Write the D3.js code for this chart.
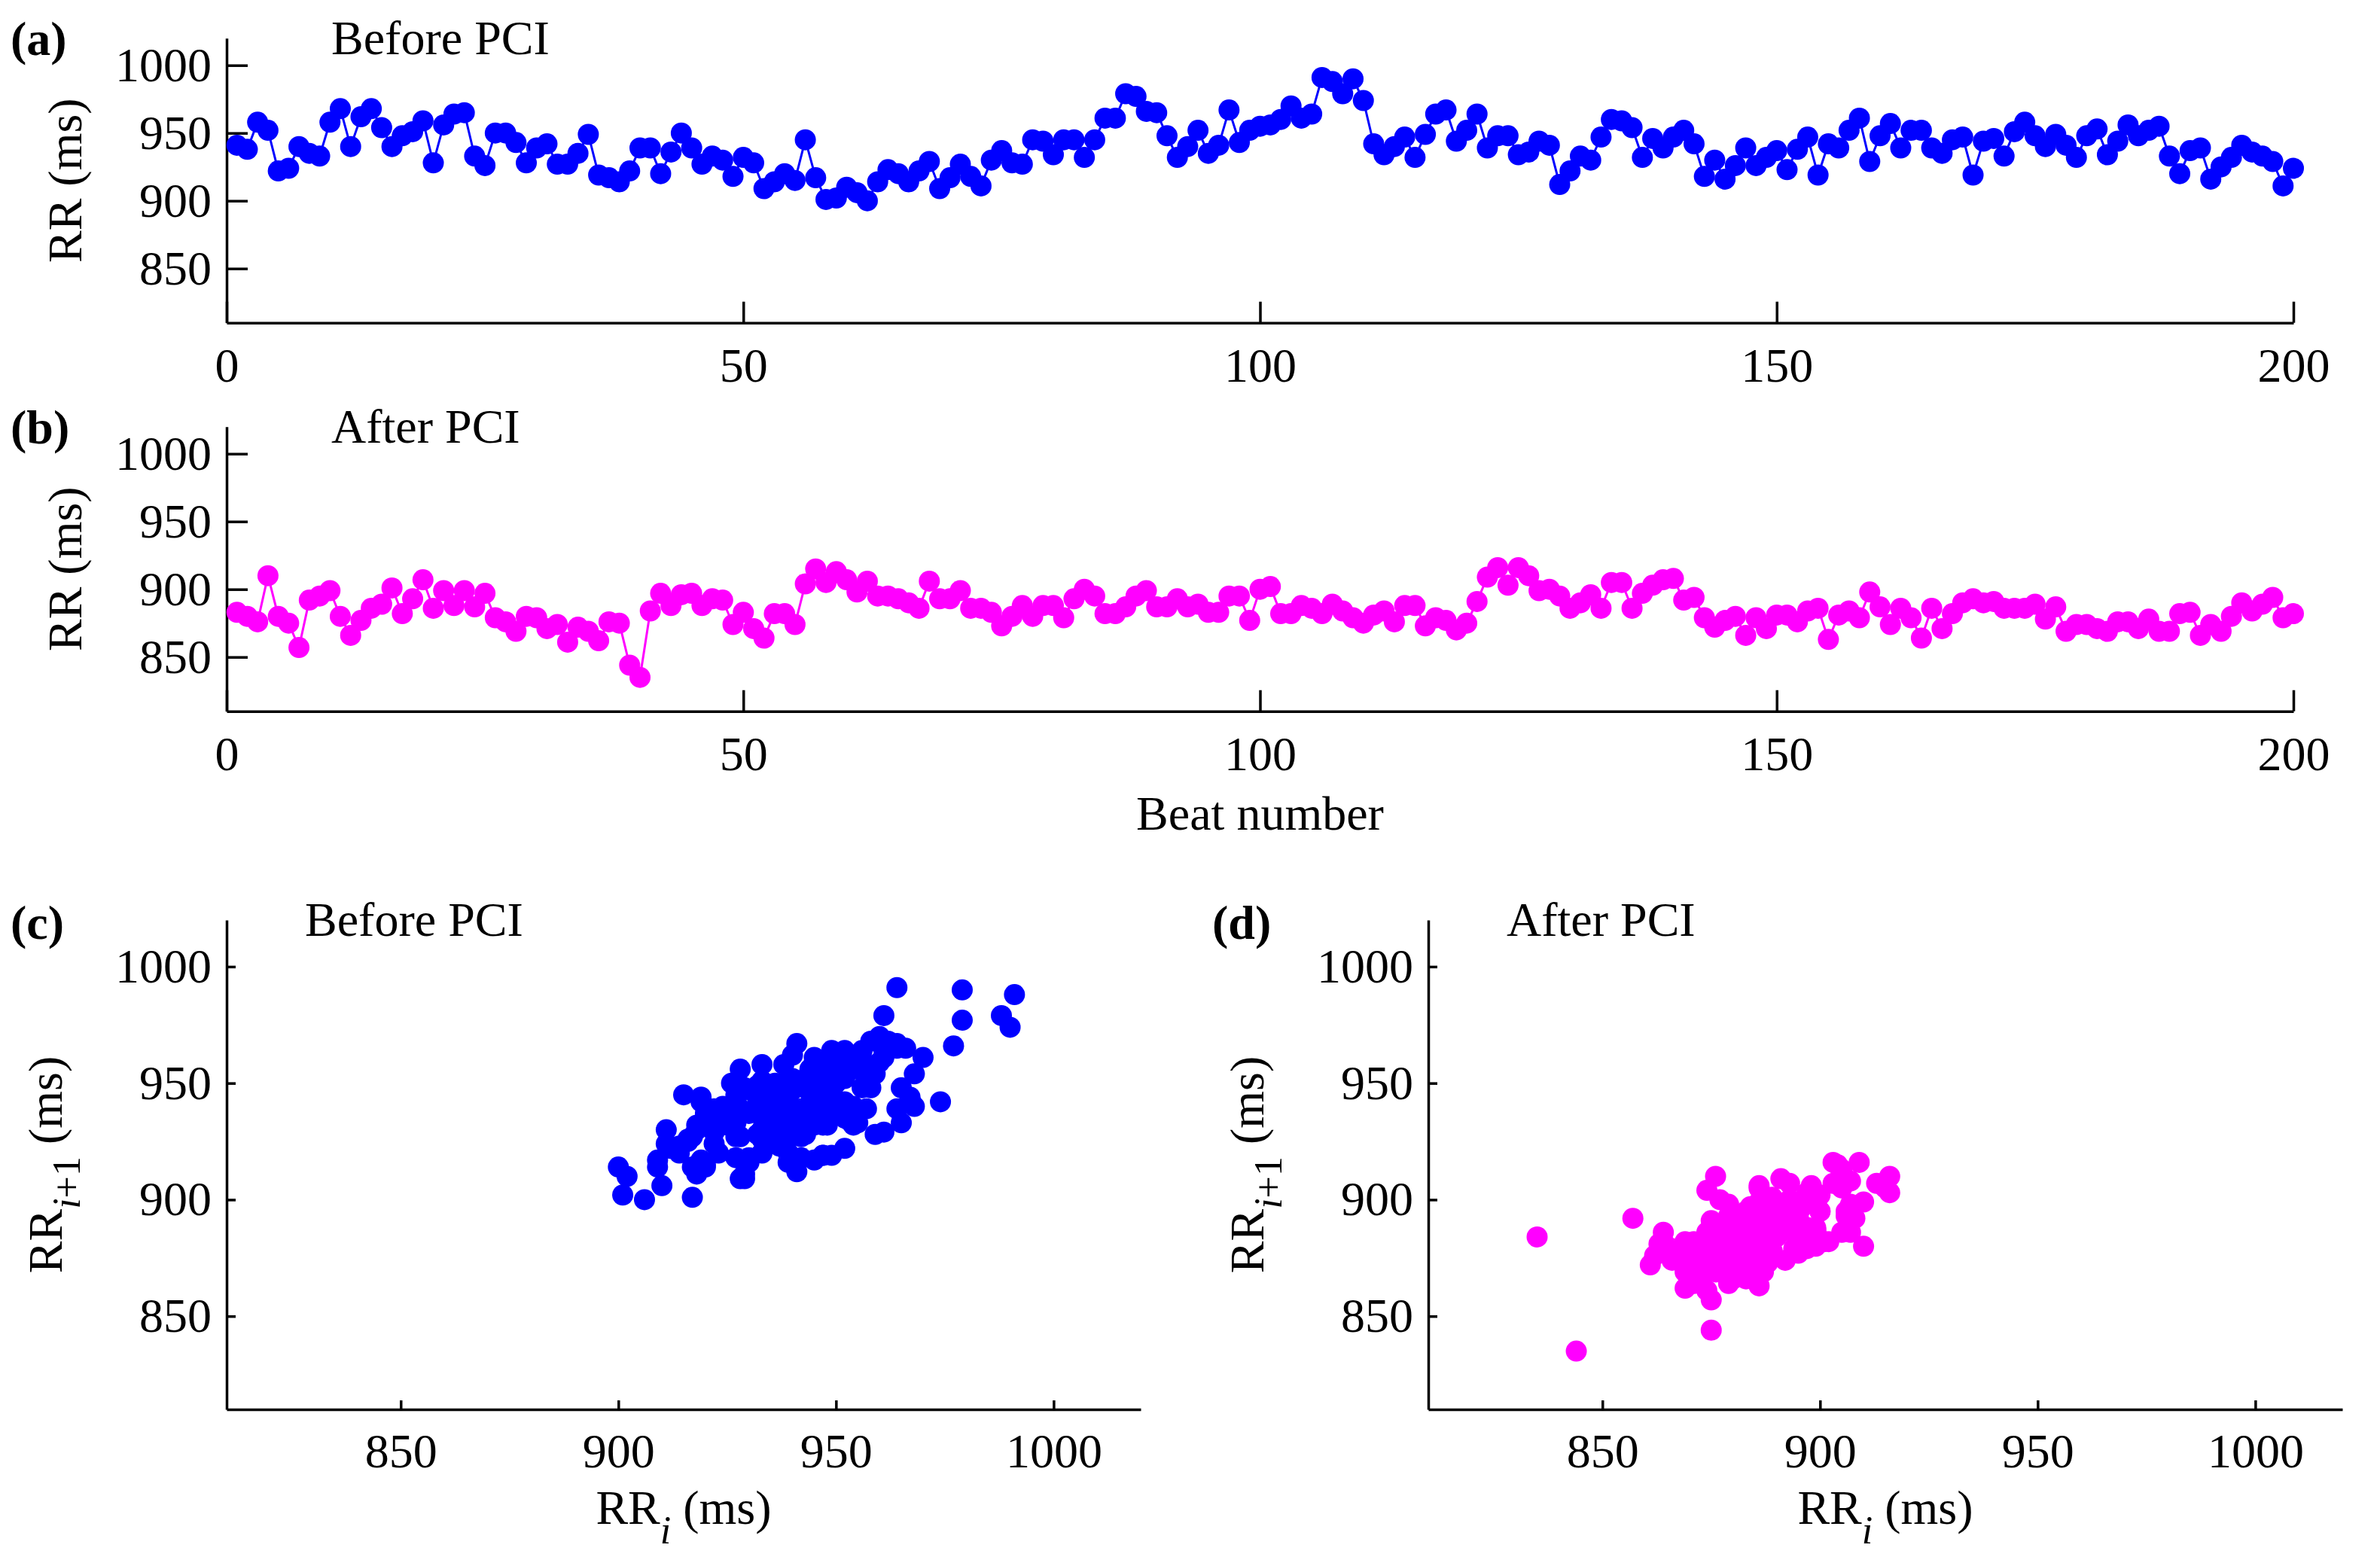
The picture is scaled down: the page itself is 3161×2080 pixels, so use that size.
<!DOCTYPE html>
<html lang="en">
<head>
    <meta charset="UTF-8">
    <title>RR intervals before and after PCI</title>
    <script src="https://d3js.org/d3.v7.min.js"></script>
    <style>
        body { margin: 0; background: #fff; }
        svg { display: block; }
        text { font-family: "Liberation Serif", "Times New Roman", serif; fill: #000; }
        .axis path, .axis line { stroke: #000; stroke-width: 3.5px; }
        .axis text { font-size: 64px; font-family: "Liberation Serif", "Times New Roman", serif; }
        .tag { font-size: 64px; font-weight: bold; }
        .lbl { font-size: 64px; }
    </style>
</head>
<body>
    <div id="chart"></div>
    <script>
        // RR intervals (ms), beats 1..200
        var beforeRR = [
            941, 938, 958, 952, 922, 924, 940, 935, 933, 958,
            968, 940, 962, 968, 954, 940, 948, 951, 959, 928,
            956, 964, 965, 933, 926, 950, 950, 943, 928, 939,
            942, 927, 927, 935, 949, 919, 917, 914, 922, 939,
            939, 920, 936, 950, 939, 927, 933, 930, 918, 932,
            928, 909, 914, 920, 915, 945, 917, 901, 902, 910,
            906, 900, 914, 923, 920, 914, 922, 929, 909, 917,
            927, 918, 911, 930, 937, 928, 927, 945, 944, 934,
            945, 945, 932, 945, 961, 961, 979, 977, 966, 965,
            948, 932, 940, 952, 935, 941, 967, 943, 952, 955,
            956, 960, 970, 961, 964, 991, 988, 979, 990, 974,
            942, 934, 940, 947, 932, 949, 964, 967, 944, 952,
            964, 939, 948, 948, 934, 936, 944, 941, 912, 922,
            933, 930, 947, 960, 959, 954, 932, 946, 939, 947,
            952, 942, 918, 930, 916, 926, 939, 926, 932, 937,
            923, 938, 947, 919, 942, 939, 952, 961, 929, 948,
            957, 939, 952, 952, 939, 935, 945, 947, 919, 944,
            946, 933, 951, 958, 948, 940, 949, 941, 932, 948,
            953, 934, 944, 956, 948, 952, 955, 933, 920, 937,
            939, 916, 925, 932, 941, 936, 933, 929, 911, 924
        ];

        var afterRR = [
            883, 880, 876, 910, 880, 875, 857, 892, 895, 899,
            880, 866, 877, 886, 889, 901, 882, 893, 907, 886,
            899, 888, 899, 887, 897, 879, 876, 869, 880, 879,
            871, 874, 861, 872, 869, 862, 876, 875, 844, 835,
            884, 897, 888, 896, 897, 888, 893, 892, 874, 883,
            871, 864, 882, 882, 874, 904, 915, 905, 913, 907,
            898, 906, 895, 895, 893, 890, 886, 906, 893, 893,
            899, 886, 886, 883, 873, 880, 888, 880, 888, 888,
            879, 893, 900, 895, 882, 882, 887, 895, 899, 887,
            887, 893, 887, 889, 883, 883, 895, 895, 877, 900,
            902, 882, 882, 888, 886, 882, 889, 884, 879, 875,
            881, 884, 876, 888, 888, 873, 879, 877, 870, 875,
            891, 909, 916, 903, 916, 910, 899, 900, 895, 886,
            890, 896, 886, 905, 905, 886, 897, 903, 907, 908,
            892, 894, 879, 872, 877, 880, 866, 879, 871, 881,
            881, 876, 884, 886, 863, 881, 884, 879, 898, 887,
            874, 886, 879, 864, 886, 871, 882, 890, 893, 890,
            891, 886, 886, 886, 889, 878, 887, 869, 874, 874,
            871, 869, 876, 876, 871, 878, 869, 869, 882, 883,
            866, 874, 869, 880, 890, 884, 889, 894, 879, 882
        ];

        var beatTicks = [0, 50, 100, 150, 200];
        var rrTicks = [850, 900, 950, 1000];
        var rrDomain = [810, 1020];

        var blue = "#0000ff";
        var magenta = "#ff00ff";

        var W = 3161, H = 2080;
        var svg = d3.select("#chart").append("svg")
            .attr("width", W)
            .attr("height", H);

        var beats = d3.range(1, beforeRR.length + 1);
        var fmt = d3.format("d");

        // ---- time series panels (a) and (b)
        var xBeat = d3.scaleLinear().domain([0, 200]).range([301, 3046]);

        function seriesPanel(values, yRange, color, tag, title, tagY) {
            var y = d3.scaleLinear().domain(rrDomain).range(yRange);
            var g = svg.append("g");

            g.append("g")
                .attr("class", "axis")
                .attr("transform", `translate(0,${yRange[0]})`)
                .call(d3.axisBottom(xBeat).tickValues(beatTicks).tickFormat(fmt).tickSize(-28).tickSizeOuter(0))
                .selectAll("text").attr("y", 78).attr("dy", null);

            g.append("g")
                .attr("class", "axis")
                .attr("transform", `translate(${xBeat(0)},0)`)
                .call(d3.axisLeft(y).tickValues(rrTicks).tickFormat(fmt).tickSize(-28).tickSizeOuter(0).tickPadding(20));

            var line = d3.line()
                .x((d, i) => xBeat(beats[i]))
                .y(d => y(d));

            g.append("path")
                .datum(values)
                .attr("fill", "none")
                .attr("stroke", color)
                .attr("stroke-width", 3)
                .attr("d", line);

            g.selectAll("circle")
                .data(values)
                .enter().append("circle")
                .attr("cx", (d, i) => xBeat(beats[i]))
                .attr("cy", d => y(d))
                .attr("r", 14)
                .attr("fill", color);

            g.append("text").attr("class", "tag").attr("x", 14).attr("y", tagY).text(tag);
            g.append("text").attr("class", "lbl").attr("x", 440).attr("y", tagY - 1).text(title);

            g.append("text")
                .attr("class", "lbl")
                .attr("text-anchor", "middle")
                .attr("transform", `translate(108,${(yRange[0] + yRange[1]) / 2}) rotate(-90)`)
                .text("RR (ms)");
        }

        seriesPanel(beforeRR, [428.7, 50.7], blue, "(a)", "Before PCI", 73);
        seriesPanel(afterRR, [944.7, 566.7], magenta, "(b)", "After PCI", 589);

        svg.append("text")
            .attr("class", "lbl")
            .attr("text-anchor", "middle")
            .attr("x", (xBeat(0) + xBeat(200)) / 2)
            .attr("y", 1102)
            .text("Beat number");

        // ---- Poincare panels (c) and (d): RR(i) vs RR(i+1)
        function poincarePanel(values, x0, color, tag, title) {
            var x = d3.scaleLinear().domain(rrDomain).range([x0, x0 + 1214]);
            var y = d3.scaleLinear().domain(rrDomain).range([1872, 1222]);
            var g = svg.append("g");

            g.append("g")
                .attr("class", "axis")
                .attr("transform", `translate(0,1872)`)
                .call(d3.axisBottom(x).tickValues(rrTicks).tickFormat(fmt).tickSize(-12).tickSizeOuter(0))
                .selectAll("text").attr("y", 77).attr("dy", null);

            g.append("g")
                .attr("class", "axis")
                .attr("transform", `translate(${x0},0)`)
                .call(d3.axisLeft(y).tickValues(rrTicks).tickFormat(fmt).tickSize(-12).tickSizeOuter(0).tickPadding(20));

            g.selectAll("circle")
                .data(d3.pairs(values))
                .enter().append("circle")
                .attr("cx", d => x(d[0]))
                .attr("cy", d => y(d[1]))
                .attr("r", 14)
                .attr("fill", color);

            g.append("text").attr("class", "tag").attr("x", x0 - 287).attr("y", 1247).text(tag);
            g.append("text").attr("class", "lbl").attr("x", x0 + 104).attr("y", 1243).text(title);

            // x label RR_i (ms)
            var xl = g.append("text")
                .attr("class", "lbl")
                .attr("text-anchor", "middle")
                .attr("x", x0 + 607)
                .attr("y", 2024);
            xl.append("tspan").text("RR");
            xl.append("tspan").attr("font-style", "italic").attr("font-size", 52).attr("dy", 26).text("i");
            xl.append("tspan").attr("dy", -26).text(" (ms)");

            // y label RR_{i+1} (ms)
            var yl = g.append("text")
                .attr("class", "lbl")
                .attr("text-anchor", "middle")
                .attr("transform", `translate(${x0 - 219},1547) rotate(-90)`);
            yl.append("tspan").text("RR");
            var sub = yl.append("tspan").attr("font-size", 52).attr("dy", 24);
            sub.append("tspan").attr("font-style", "italic").text("i");
            sub.append("tspan").text("+1");
            yl.append("tspan").attr("dy", -24).text(" (ms)");
        }

        poincarePanel(beforeRR, 301, blue, "(c)", "Before PCI");
        poincarePanel(afterRR, 1897, magenta, "(d)", "After PCI");
    </script>
</body>
</html>
